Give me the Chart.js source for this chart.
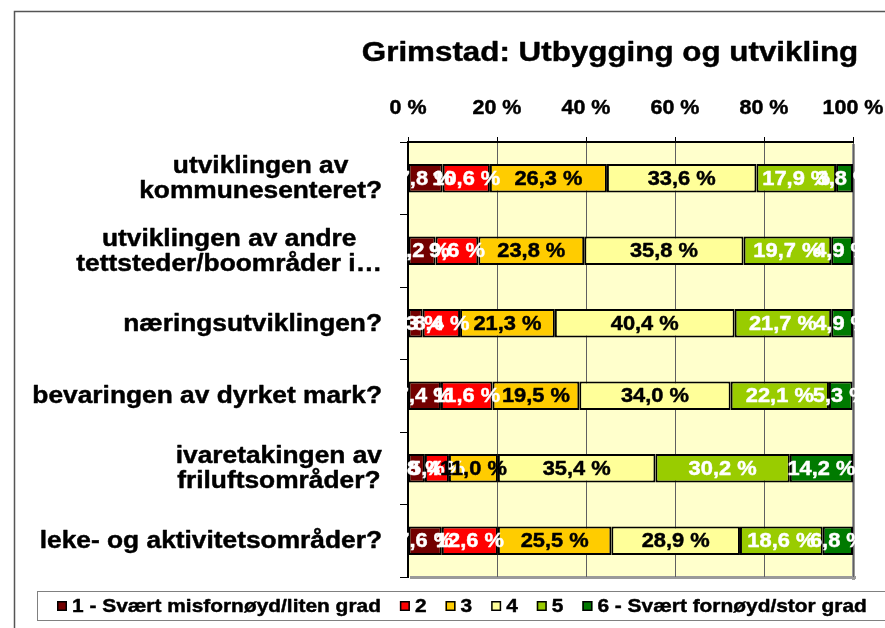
<!DOCTYPE html>
<html>
<head>
<meta charset="utf-8">
<script src="https://cdn.jsdelivr.net/npm/chart.js@4/dist/chart.umd.min.js"></script>
<style>
  html, body { margin: 0; padding: 0; background: #ffffff; }
  #wrap { width: 885px; height: 628px; position: relative; }
</style>
</head>
<body>
<div id="wrap"><canvas id="c"></canvas></div>
<script>
// Survey questions (y categories)
const categories = [
  ['utviklingen av', 'kommunesenteret?'],
  ['utviklingen av andre', 'tettsteder/boområder i…'],
  'næringsutviklingen?',
  'bevaringen av dyrket mark?',
  ['ivaretakingen av', 'friluftsområder?'],
  'leke- og aktivitetsområder?'
];

// Answer scale names
const seriesNames = ['1 - Svært misfornøyd/liten grad', '2', '3', '4', '5', '6 - Svært fornøyd/stor grad'];

// Share of answers per scale step (percent)
const grade1 = [7.8, 6.2, 3.3, 7.4, 3.8, 7.6];
const grade2 = [10.6, 9.6, 8.4, 11.6, 5.4, 12.6];
const grade3 = [26.3, 23.8, 21.3, 19.5, 11.0, 25.5];
const grade4 = [33.6, 35.8, 40.4, 34.0, 35.4, 28.9];
const grade5 = [17.9, 19.7, 21.7, 22.1, 30.2, 18.6];
const grade6 = [3.8, 4.9, 4.9, 5.3, 14.2, 6.8];

// Axis ticks (percent)
const tickValues = [0, 20, 40, 60, 80, 100];

const titleText = 'Grimstad: Utbygging og utvikling';

const fillColors = ['#730000', '#ff0000', '#ffcc00', '#ffff99', '#99cc00', '#007a00'];
const labelColors = ['#ffffff', '#ffffff', '#000000', '#000000', '#ffffff', '#ffffff'];
const FONT = '"Liberation Sans", Arial, sans-serif';

// bold text, widened horizontally by sx and slightly thickened with a thin outline
function stretchedText(ctx, text, x, y, size, color, align, sx) {
  ctx.save();
  ctx.translate(x, y);
  ctx.scale(sx, 1);
  ctx.font = 'bold ' + size + 'px ' + FONT;
  ctx.fillStyle = color;
  ctx.strokeStyle = color;
  ctx.lineWidth = 0.45;
  ctx.lineJoin = 'round';
  ctx.textAlign = align;
  ctx.textBaseline = 'middle';
  ctx.fillText(text, 0, 0);
  ctx.strokeText(text, 0, 0);
  ctx.restore();
}
function textWidth(ctx, text, size, sx) {
  ctx.save();
  ctx.font = 'bold ' + size + 'px ' + FONT;
  const w = ctx.measureText(text).width * sx;
  ctx.restore();
  return w;
}
const pct = v => v.toFixed(1).replace('.', ',') + ' %';

const series = [grade1, grade2, grade3, grade4, grade5, grade6];

const decor = {
  id: 'decor',
  beforeDraw(chart) {
    const ctx = chart.ctx, a = chart.chartArea;
    ctx.save();
    ctx.fillStyle = '#ffffff';
    ctx.fillRect(0, 0, chart.width, chart.height);
    // outer frame
    ctx.strokeStyle = '#555555';
    ctx.lineWidth = 1.5;
    ctx.beginPath();
    ctx.moveTo(14.5, chart.height);
    ctx.lineTo(14.5, 11.5);
    ctx.lineTo(chart.width, 11.5);
    ctx.stroke();
    // plot background
    ctx.fillStyle = '#ffffcc';
    ctx.fillRect(a.left, a.top, a.right - a.left, a.bottom - a.top);
    // shadowed right/bottom border
    ctx.fillStyle = '#9a9a9a';
    ctx.fillRect(a.right - 1, a.top + 2, 3, a.bottom - a.top + 1);
    ctx.fillRect(a.left + 2, a.bottom - 1, a.right - a.left + 1, 3);
    ctx.restore();
  },
  afterDatasetsDraw(chart) {
    const ctx = chart.ctx;
    chart.data.datasets.forEach((ds, i) => {
      const meta = chart.getDatasetMeta(i);
      meta.data.forEach((bar, j) => {
        const cx = (bar.x + bar.base) / 2;
        stretchedText(ctx, pct(ds.data[j]), cx, bar.y + 1, 19.5, labelColors[i], 'center', 1.12);
      });
    });
  },
  afterDraw(chart) {
    const ctx = chart.ctx;
    const xs = chart.scales.x, ys = chart.scales.y;
    // title
    stretchedText(ctx, titleText, 610, 53, 28.5, '#000000', 'center', 1.1);
    // percent tick labels
    tickValues.forEach(v => {
      stretchedText(ctx, v + ' %', xs.getPixelForValue(v), 109, 19.5, '#000000', 'center', 1.1);
    });
    // category labels: block right-aligned, lines centred within the block
    const right = 382, size = 23.5, sx = 1.12, lh = 25;
    categories.forEach((lab, i) => {
      const lines = Array.isArray(lab) ? lab : [lab];
      const maxW = Math.max(...lines.map(l => textWidth(ctx, l, size, sx)));
      const cy = ys.getPixelForValue(i);
      lines.forEach((l, k) => {
        const y = cy + (k - (lines.length - 1) / 2) * lh;
        stretchedText(ctx, l, right - maxW / 2, y + 1, size, '#000000', 'center', sx);
      });
    });
    // legend
    const ly = 591, lhgt = 29, lsize = 19, lsx = 1.1;
    ctx.save();
    ctx.strokeStyle = '#808080';
    ctx.lineWidth = 1;
    ctx.strokeRect(37.5, ly + 0.5, chart.width, lhgt);
    ctx.restore();
    let x = 57;
    const cy = ly + lhgt / 2 + 0.5;
    chart.data.datasets.forEach((ds, i) => {
      ctx.save();
      ctx.fillStyle = ds.backgroundColor;
      ctx.fillRect(x, cy - 5, 10, 10);
      ctx.strokeStyle = '#000000';
      ctx.lineWidth = 1.5;
      ctx.strokeRect(x + 0.75, cy - 4.25, 8.5, 8.5);
      ctx.restore();
      const tx = x + 15;
      stretchedText(ctx, ds.label, tx, cy + 1, lsize, '#000000', 'left', lsx);
      x = tx + textWidth(ctx, ds.label, lsize, lsx) + 19;
    });
  }
};

new Chart(document.getElementById('c'), {
  type: 'bar',
  data: {
    labels: categories,
    datasets: series.map((d, i) => ({
      label: seriesNames[i],
      data: d,
      backgroundColor: fillColors[i],
      borderColor: '#000000',
      borderWidth: 2,
      borderSkipped: false,
      barPercentage: 0.39,
      categoryPercentage: 1.0
    }))
  },
  options: {
    indexAxis: 'y',
    responsive: true,
    maintainAspectRatio: false,
    animation: false,
    layout: { padding: { left: 400, right: 32, top: 0, bottom: 51 } },
    plugins: {
      legend: { display: false },
      title: { display: false },
      tooltip: { enabled: false }
    },
    scales: {
      x: {
        type: 'linear',
        position: 'top',
        stacked: true,
        min: 0,
        max: 100,
        ticks: { stepSize: 20, display: false },
        grid: { color: '#606060', lineWidth: 1, tickLength: 5, tickColor: '#000000' },
        border: { display: true, color: '#000000', width: 2 },
        afterFit(scale) { scale.height = 142; }
      },
      y: {
        type: 'category',
        stacked: true,
        offset: true,
        ticks: { display: false },
        grid: { offset: true, drawOnChartArea: false, tickLength: 8, color: '#000000' },
        border: { display: true, color: '#000000', width: 2 },
        afterFit(scale) { scale.width = 8; }
      }
    }
  },
  plugins: [decor]
});
</script>
</body>
</html>
